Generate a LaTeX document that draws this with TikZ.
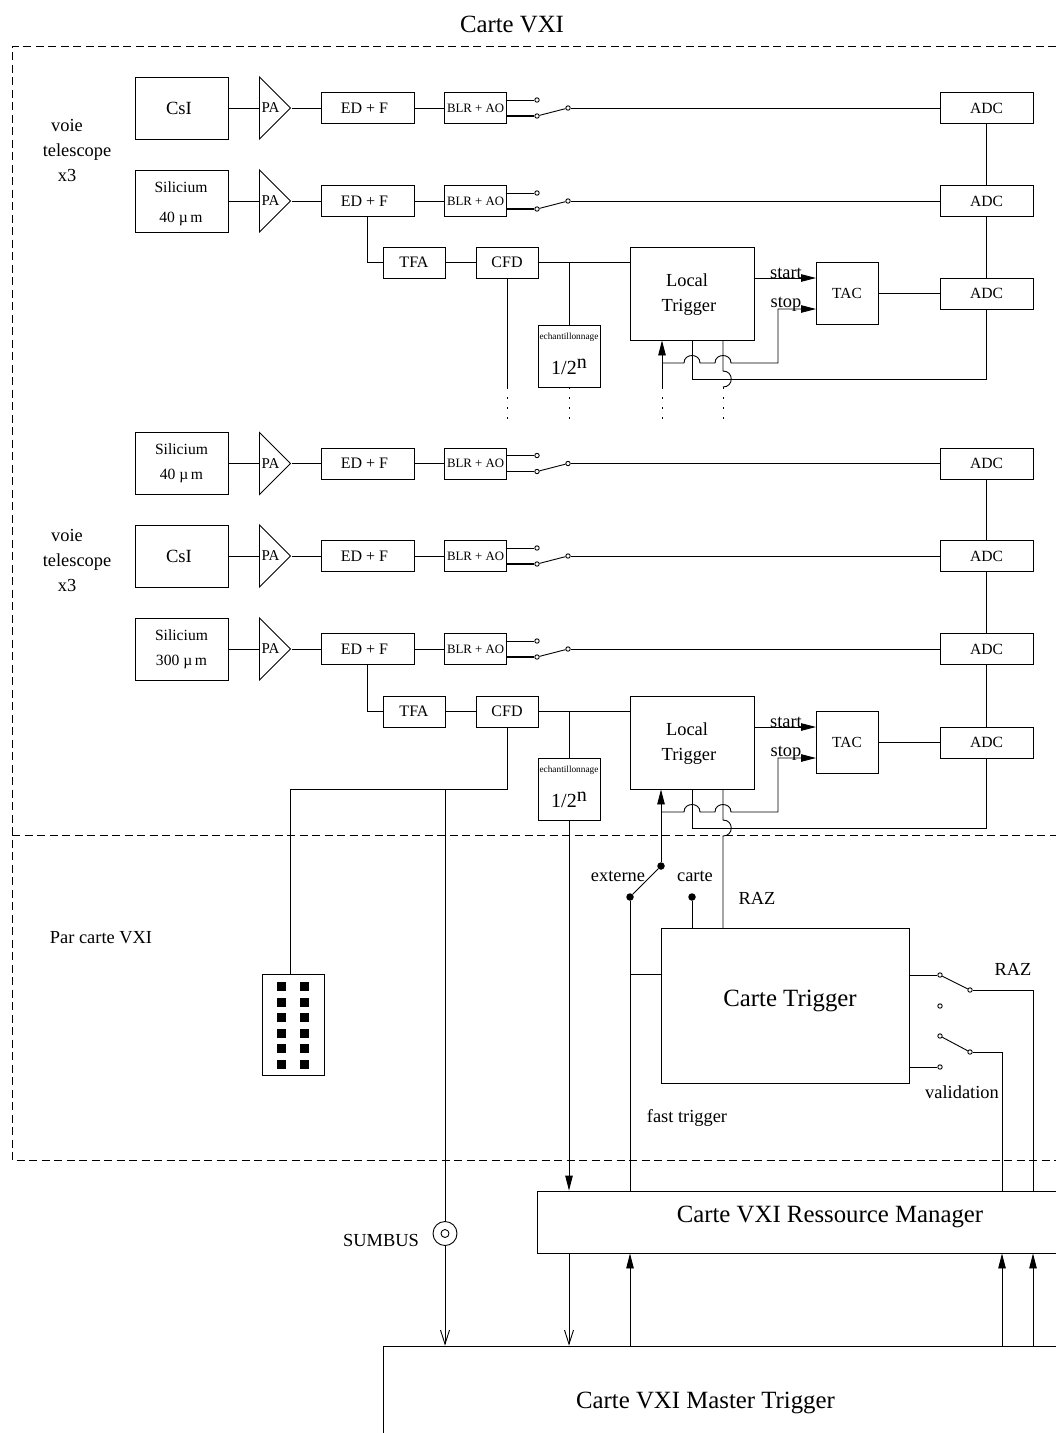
\documentclass[tikz,border=0pt]{standalone}
\usepackage{fontspec}
\setmainfont{Liberation Serif}
\usetikzlibrary{arrows.meta,shapes.geometric}
\newcommand{\fsz}[1]{\fontsize{#1}{#1}\selectfont}
\tikzset{
  wire/.style={line width=0.9pt},
  blockbox/.style={rectangle, draw=black, line width=0.9pt, inner sep=0pt},
  detbox/.style={blockbox, minimum width=93pt, minimum height=62pt, align=center},
  edfbox/.style={blockbox, minimum width=93pt, minimum height=31pt, font=\fsz{16}},
  blrbox/.style={blockbox, minimum width=62pt, minimum height=31pt, font=\fsz{12.8}},
  adcbox/.style={blockbox, minimum width=93pt, minimum height=31pt, font=\fsz{15.6}},
  smallbox/.style={blockbox, minimum width=62pt, minimum height=31pt, font=\fsz{16}},
  tacbox/.style={blockbox, minimum width=62pt, minimum height=62pt, font=\fsz{15.4}},
  ltbox/.style={blockbox, minimum width=124pt, minimum height=93pt},
  echbox/.style={blockbox, minimum width=62pt, minimum height=62pt},
  pamp/.style={isosceles triangle, isosceles triangle stretches, draw=black, line width=0.9pt,
    minimum width=62pt, minimum height=31pt, inner sep=0pt, anchor=lower side},
  contact/.style={circle, draw=black, fill=white, line width=0.9pt, inner sep=0pt, minimum size=4.4pt},
  blob/.style={circle, fill=black, inner sep=0pt, minimum size=7.5pt},
  pin/.style={rectangle, fill=black, inner sep=0pt, minimum size=9pt},
  txt/.style={inner sep=0pt, font=\fsz{18.4}},
  bigtxt/.style={inner sep=0pt, font=\fsz{24.8}},
  fulltip/.style={-{Triangle[length=15pt,width=7.5pt]}},
  opentip/.style={-{Straight Barb[length=14pt,width=9pt]}},
  frameline/.style={line width=0.8pt, dash pattern=on 8pt off 4.5pt},
  dotline/.style={line width=1pt, dash pattern=on 1.5pt off 8.5pt},
}
\begin{document}
\begin{tikzpicture}[x=1pt,y=-1pt]
\useasboundingbox (0,0) rectangle (1056,1433);
\clip (0,0) rectangle (1056,1433);
% dashed frames
\coordinate (ftl) at (12,46);
\coordinate (ftr) at (1056,46);
\coordinate (fbl) at (12,1160);
\coordinate (fbr) at (1056,1160);
\coordinate (fml) at (12,835);
\coordinate (fmr) at (1056,835);
\draw[frameline] (ftr) -- (ftl) -- (fbl) -- (fbr);
\draw[frameline] (fml) -- (fmr);
\node [bigtxt] (titlevxi) at (512,24) {Carte VXI};
\node [txt] (voiea1) at (67,125) {voie};
\node [txt] (voiea2) at (77,152) {telescope};
\node [txt] (voiea3) at (67,175) {x3};
\node [txt] (voieb1) at (67,535) {voie};
\node [txt] (voieb2) at (77,562) {telescope};
\node [txt] (voieb3) at (67,585) {x3};
\node [txt] (parvxi) at (101,938) {Par carte VXI};
% detectors
\node [detbox, font=\fsz{18.6}] (det1) at (181.5,108) {CsI\hspace*{5pt}};
\node [detbox] (det2) at (181.5,201) {};
\node [txt, font=\fsz{15.6}] (sitxt2) at (181,187) {Silicium};
\node [txt, font=\fsz{15.6}] (umtxt2) at (181,219) {40 µ\,m};
\node [detbox, font=\fsz{15.6}] (det3) at (181.5,463.5) {Silicium\\[9pt]40 µ\,m};
\node [detbox, font=\fsz{18.6}] (det4) at (181.5,556) {CsI\hspace*{5pt}};
\node [detbox, font=\fsz{15.6}] (det5) at (181.5,649) {Silicium\\[9pt]300 µ\,m};
% preamps
\node [pamp] (pa1) at (259,108) {};
\node [pamp] (pa2) at (259,201) {};
\node [pamp] (pa3) at (259,463.5) {};
\node [pamp] (pa4) at (259,556) {};
\node [pamp] (pa5) at (259,649) {};
\node [txt, font=\fsz{15}] (patxt1) at (270.5,108) {PA};
\node [txt, font=\fsz{15}] (patxt2) at (270.5,201) {PA};
\node [txt, font=\fsz{15}] (patxt3) at (270.5,463.5) {PA};
\node [txt, font=\fsz{15}] (patxt4) at (270.5,556) {PA};
\node [txt, font=\fsz{15}] (patxt5) at (270.5,649) {PA};
% shaping
\node [edfbox] (edf1) at (367.5,108) {ED + F\hspace*{6pt}};
\node [edfbox] (edf2) at (367.5,201) {ED + F\hspace*{6pt}};
\node [edfbox] (edf3) at (367.5,463.5) {ED + F\hspace*{6pt}};
\node [edfbox] (edf4) at (367.5,556) {ED + F\hspace*{6pt}};
\node [edfbox] (edf5) at (367.5,649) {ED + F\hspace*{6pt}};
\node [blrbox] (blr1) at (475.5,108) {BLR + AO};
\node [blrbox] (blr2) at (475.5,201) {BLR + AO};
\node [blrbox] (blr3) at (475.5,463.5) {BLR + AO};
\node [blrbox] (blr4) at (475.5,556) {BLR + AO};
\node [blrbox] (blr5) at (475.5,649) {BLR + AO};
% adc column
\node [adcbox] (adc1) at (986.5,108) {ADC};
\node [adcbox] (adc2) at (986.5,201) {ADC};
\node [adcbox] (adc3) at (986.5,293.5) {ADC};
\node [adcbox] (adc4) at (986.5,463.5) {ADC};
\node [adcbox] (adc5) at (986.5,556) {ADC};
\node [adcbox] (adc6) at (986.5,649) {ADC};
\node [adcbox] (adc7) at (986.5,742.5) {ADC};
% switches of the channels
\node [contact] (upa1) at (537,100) {};
\node [contact] (loa1) at (537,116) {};
\node [contact] (pol1) at (568,108) {};
\node [contact] (upa2) at (537,193) {};
\node [contact] (loa2) at (537,209) {};
\node [contact] (pol2) at (568,201) {};
\node [contact] (upa3) at (537,455.5) {};
\node [contact] (loa3) at (537,471.5) {};
\node [contact] (pol3) at (568,463.5) {};
\node [contact] (upa4) at (537,548) {};
\node [contact] (loa4) at (537,564) {};
\node [contact] (pol4) at (568,556) {};
\node [contact] (upa5) at (537,641) {};
\node [contact] (loa5) at (537,657) {};
\node [contact] (pol5) at (568,649) {};
% channel wiring
\draw[wire] (det1) -- (pa1.lower side);
\draw[wire] (det2) -- (pa2.lower side);
\draw[wire] (det3) -- (pa3.lower side);
\draw[wire] (det4) -- (pa4.lower side);
\draw[wire] (det5) -- (pa5.lower side);
\draw[wire] (pa1.apex) -- (edf1);
\draw[wire] (pa2.apex) -- (edf2);
\draw[wire] (pa3.apex) -- (edf3);
\draw[wire] (pa4.apex) -- (edf4);
\draw[wire] (pa5.apex) -- (edf5);
\draw[wire] (edf1) -- (blr1);
\draw[wire] (edf2) -- (blr2);
\draw[wire] (edf3) -- (blr3);
\draw[wire] (edf4) -- (blr4);
\draw[wire] (edf5) -- (blr5);
\draw[wire] (blr1.east |- upa1) -- (upa1);
\draw[wire] (blr2.east |- upa2) -- (upa2);
\draw[wire] (blr3.east |- upa3) -- (upa3);
\draw[wire] (blr4.east |- upa4) -- (upa4);
\draw[wire] (blr5.east |- upa5) -- (upa5);
\draw[line width=1.8pt] (blr1.east |- loa1) -- (loa1);
\draw[line width=1.1pt] (blr2.east |- loa2) -- (loa2);
\draw[line width=1.1pt] (blr3.east |- loa3) -- (loa3);
\draw[line width=1.1pt] (blr4.east |- loa4) -- (loa4);
\draw[line width=1.1pt] (blr5.east |- loa5) -- (loa5);
\draw[wire] (loa1) -- (pol1);
\draw[wire] (loa2) -- (pol2);
\draw[wire] (loa3) -- (pol3);
\draw[wire] (loa4) -- (pol4);
\draw[wire] (loa5) -- (pol5);
\draw[wire] (pol1) -- (adc1);
\draw[wire] (pol2) -- (adc2);
\draw[wire] (pol3) -- (adc4);
\draw[wire] (pol4) -- (adc5);
\draw[wire] (pol5) -- (adc6);
\draw[wire] (adc1) -- (adc2);
\draw[wire] (adc2) -- (adc3);
\draw[wire] (adc4) -- (adc5);
\draw[wire] (adc5) -- (adc6);
\draw[wire] (adc6) -- (adc7);
% timing branch, upper block
\node [smallbox] (tfa1) at (414,262.5) {TFA};
\node [smallbox] (cfd1) at (507,262.5) {CFD};
\node [ltbox] (lt1) at (692.5,293.5) {};
\node [txt] (lttxta1) at (687,280) {Local};
\node [txt] (lttxtb1) at (689,307) {Trigger};
\node [tacbox] (tac1) at (847,293.5) {TAC};
\node [echbox] (ech1) at (569,356) {};
\node [txt, font=\fsz{9.3}] (echtxt1) at (569,337) {echantillonnage};
\node [txt, font=\fsz{20}] (frac1) at (569,367) {1/2\raisebox{6pt}{n}};
\node [txt] (starttxt1) at (786,273) {start};
\node [txt] (stoptxt1) at (786,304) {stop};
\coordinate (start1) at (816,278);
\coordinate (stop1) at (816,309);
\coordinate (cfdin1) at (507,387);
\coordinate (cfdend1) at (507,418.5);
\coordinate (echend1) at (569,418.5);
\coordinate (ltin1) at (662,387);
\coordinate (ltinend1) at (662,418.5);
\coordinate (razout1) at (723,387);
\coordinate (razend1) at (723,418.5);
\draw[wire] (edf2.south) |- (tfa1.west);
\draw[wire] (tfa1) -- (cfd1);
\draw[wire] (cfd1) -- (cfd1 -| lt1.west);
\draw[wire] (ech1.north |- cfd1) -- (ech1.north);
\draw[wire] (cfd1) -- (cfdin1);
\draw[dotline] (cfdin1) -- (cfdend1);
\draw[dotline] (ech1.south) -- (echend1);
\draw[dotline] (ltin1) -- (ltinend1);
\draw[dotline] (razout1) -- (razend1);
\draw[wire, fulltip] (ltin1) -- (ltin1 |- lt1.south);
\draw[wire, fulltip] (lt1.east |- start1) -- (start1);
\draw[wire, fulltip] (ltin1 |- 0,363) -- (684,363) .. controls (684,353) and (700,353) .. (700,363) -- (715,363)
  .. controls (715,353) and (731,353) .. (731,363) -- (778,363) -- (778,309) -- (stop1);
\draw[wire] (692,340) -- (692,379) -- (986.5,379) -- (adc3);
\draw[wire] (723,340) -- (723,371) .. controls (734,371) and (734,387) .. (razout1);
\draw[wire] (tac1) -- (adc3);
% timing branch, lower block
\node [smallbox] (tfa2) at (414,711.5) {TFA};
\node [smallbox] (cfd2) at (507,711.5) {CFD};
\node [ltbox] (lt2) at (692.5,742.5) {};
\node [txt] (lttxta2) at (687,729) {Local};
\node [txt] (lttxtb2) at (689,756) {Trigger};
\node [tacbox] (tac2) at (847,742.5) {TAC};
\node [echbox] (ech2) at (569,789) {};
\node [txt, font=\fsz{9.3}] (echtxt2) at (569,770) {echantillonnage};
\node [txt, font=\fsz{20}] (frac2) at (569,800) {1/2\raisebox{6pt}{n}};
\node [txt] (starttxt2) at (786,722) {start};
\node [txt] (stoptxt2) at (786,753) {stop};
\coordinate (start2) at (816,727);
\coordinate (stop2) at (816,758);
\draw[wire] (edf5.south) |- (tfa2.west);
\draw[wire] (tfa2) -- (cfd2);
\draw[wire] (cfd2) -- (cfd2 -| lt2.west);
\draw[wire] (ech2.north |- cfd2) -- (ech2.north);
\draw[wire, fulltip] (lt2.east |- start2) -- (start2);
\draw[wire, fulltip] (661,812) -- (684,812) .. controls (684,802) and (700,802) .. (700,812) -- (715,812)
  .. controls (715,802) and (731,802) .. (731,812) -- (778,812) -- (778,758) -- (stop2);
\draw[wire] (692,789) -- (692,828) -- (986.5,828) -- (adc7);
\draw[wire] (tac2) -- (adc7);
% trigger card
\node [blockbox, minimum width=248pt, minimum height=155pt] (trig) at (785,1005.5) {};
\node [bigtxt] (trigtxt) at (790,1001) {Carte Trigger};
\node [blob] (swpole) at (661,866) {};
\node [blob] (swext) at (630,897) {};
\node [blob] (swcarte) at (692,897) {};
\node [txt] (exttxt) at (618,876) {externe};
\node [txt] (cartetxt) at (695,876) {carte};
\node [txt] (raztxt1) at (757,898) {RAZ};
\node [txt] (raztxt2) at (1013,969) {RAZ};
\node [txt] (validtxt) at (962,1092) {validation};
\node [txt] (fasttxt) at (687,1118) {fast trigger};
\node [contact] (cta) at (940,975) {};
\node [contact] (ctb) at (970,990) {};
\node [contact] (ctc) at (940,1006) {};
\node [contact] (ctd) at (940,1036) {};
\node [contact] (cte) at (970,1052) {};
\node [contact] (ctf) at (940,1067) {};
\coordinate (razdrop) at (1033,990);
\coordinate (valdrop) at (1002,1052);
\coordinate (fastbranch) at (630,974);
\draw[wire, fulltip] (swpole) -- (swpole |- lt2.south);
\draw[wire] (swext) -- (swpole);
\draw[wire] (swcarte) -- (swcarte |- trig.north);
\draw[wire] (723,789) -- (723,820) .. controls (734,820) and (734,836) .. (723,836) -- (723,928);
\draw[wire] (fastbranch) -- (fastbranch -| trig.west);
\draw[wire] (trig.east |- cta) -- (cta);
\draw[wire] (trig.east |- ctf) -- (ctf);
\draw[wire] (cta) -- (ctb);
\draw[wire] (ctd) -- (cte);
\draw[wire] (ctb) -- (razdrop);
\draw[wire] (cte) -- (valdrop);
% connector and sumbus
\node [blockbox, minimum width=62.5pt, minimum height=101pt] (conn) at (293.5,1024.5) {};
\node [pin] (pin1) at (281.5,986.5) {};
\node [pin] (pin2) at (304.5,986.5) {};
\node [pin] (pin3) at (281.5,1002) {};
\node [pin] (pin4) at (304.5,1002) {};
\node [pin] (pin5) at (281.5,1017.5) {};
\node [pin] (pin6) at (304.5,1017.5) {};
\node [pin] (pin7) at (281.5,1033) {};
\node [pin] (pin8) at (304.5,1033) {};
\node [pin] (pin9) at (281.5,1048.5) {};
\node [pin] (pin10) at (304.5,1048.5) {};
\node [pin] (pin11) at (281.5,1064) {};
\node [pin] (pin12) at (304.5,1064) {};
\coordinate (bustap) at (290,789);
\node [circle, draw=black, line width=0.9pt, inner sep=0pt, minimum size=24pt] (sumbus) at (445,1233.5) {};
\node [circle, draw=black, line width=0.9pt, inner sep=0pt, minimum size=8pt] (sumcore) at (445,1233.5) {};
\node [txt] (sumtxt) at (381,1240) {SUMBUS};
% resource manager and master trigger
\node [blockbox, minimum width=584pt, minimum height=62pt] (rm) at (829,1222) {};
\node [bigtxt] (rmtxt) at (830,1217) {Carte VXI Ressource Manager};
\node [blockbox, minimum width=834pt, minimum height=148pt] (mt) at (800,1420) {};
\node [bigtxt] (mttxt) at (705.5,1403) {Carte VXI Master Trigger};
\draw[wire] (cfd2.south) -- (cfd2.south |- bustap) -- (bustap) -- (conn.north -| bustap);
\draw[wire] (sumbus |- bustap) -- (sumbus);
\draw[wire, opentip] (sumbus) -- (sumbus |- mt.north);
\draw[wire, fulltip] (ech2.south) -- (ech2.south |- rm.north);
\draw[wire, opentip] (ech2.south |- rm.south) -- (ech2.south |- mt.north);
\draw[wire] (swext) -- (swext |- rm.north);
\draw[wire, fulltip] (swext |- mt.north) -- (swext |- rm.south);
\draw[wire] (valdrop) -- (valdrop |- rm.north);
\draw[wire, fulltip] (valdrop |- mt.north) -- (valdrop |- rm.south);
\draw[wire] (razdrop) -- (razdrop |- rm.north);
\draw[wire, fulltip] (razdrop |- mt.north) -- (razdrop |- rm.south);
\end{tikzpicture}
\end{document}
